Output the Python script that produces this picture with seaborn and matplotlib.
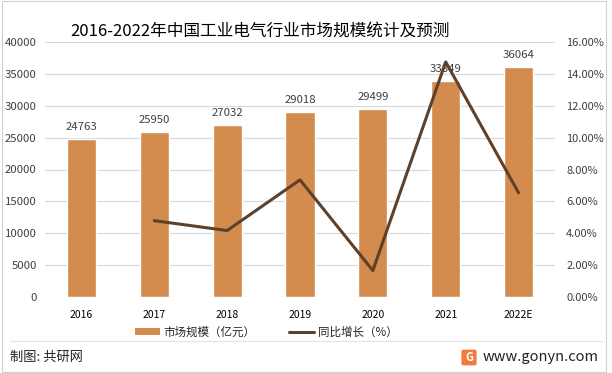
import numpy as np
import pandas as pd
import matplotlib
matplotlib.use("Agg")
import matplotlib.pyplot as plt
import seaborn as sns
from matplotlib.patches import Rectangle, Patch, FancyBboxPatch
from matplotlib.lines import Line2D

years = ["2016", "2017", "2018", "2019", "2020", "2021", "2022E"]
market = [24763, 25950, 27032, 29018, 29499, 33849, 36064]
growth = [np.nan, 4.79, 4.17, 7.35, 1.66, 14.75, 6.54]
left_ticks = [0, 5000, 10000, 15000, 20000, 25000, 30000, 35000, 40000]
right_ticks = [0, 2, 4, 6, 8, 10, 12, 14, 16]

title = "2016-2022年中国工业电气行业市场规模统计及预测"
bar_name = "市场规模（亿元）"
line_name = "同比增长（%）"

BAR_C = "#D48B4E"
LINE_C = "#5E412B"
GRID_C = "#D9D9D9"
TXT_C = "#404040"

sns.set_theme(style="white")
plt.rcParams['font.family'] = ['Noto Sans CJK SC', 'DejaVu Sans']

df = pd.DataFrame({"year": years, "market": market, "growth": growth, "pos": np.arange(len(years))})

fig = plt.figure(figsize=(6.12, 3.73), dpi=100)
ax = fig.add_axes([45/612, 1-297/373, 510/612, 255/373])

sns.barplot(data=df, x="year", y="market", color=BAR_C, width=0.4, saturation=1, ax=ax, zorder=2)
ax.set_ylim(0, 40000)
ax.set_xlim(-0.5, len(years)-0.5)
ax.set_yticks(left_ticks)
ax.set_yticklabels([str(t) for t in left_ticks], fontsize=8.2, color=TXT_C)
ax.yaxis.grid(True, color=GRID_C, linewidth=0.8, zorder=0)
ax.set_axisbelow(True)
ax.tick_params(axis="y", length=0, pad=6)
ax.tick_params(axis="x", length=0, pad=9)
for lab in ax.get_xticklabels():
    lab.set_fontsize(7.5)
    lab.set_color("#000000")
ax.set_xlabel("")
ax.set_ylabel("")
for s in ax.spines.values():
    s.set_visible(False)

for i, v in enumerate(market):
    ax.annotate(str(v), (i, v), xytext=(0, 5), textcoords="offset points",
                ha="center", va="bottom", fontsize=8.2, color=TXT_C, zorder=1)

ax2 = ax.twinx()
sns.lineplot(data=df, x="pos", y="growth", color=LINE_C, linewidth=2.2, ax=ax2, zorder=5)
ax2.set_ylim(0, 16)
ax2.set_yticks(right_ticks)
ax2.set_yticklabels([f"{t:.2f}%" for t in right_ticks], fontsize=8, color=TXT_C)
ax2.tick_params(axis="y", length=0, pad=8)
ax2.set_ylabel("")
ax2.set_xlabel("")
ax2.grid(False)
for s in ax2.spines.values():
    s.set_visible(False)
ax2.set_xlim(-0.5, len(years)-0.5)

fig.text(260/612, 1-31/373, title, ha="center", va="center", fontsize=12, color="#000000")

handles = [Patch(facecolor=BAR_C, edgecolor="none"),
           Line2D([0], [0], color=LINE_C, linewidth=2.2)]
fig.legend(handles, [bar_name, line_name], loc="center", bbox_to_anchor=(266/612, 1-332/373),
           ncol=2, frameon=False, fontsize=8.3, handlelength=2.2, handleheight=0.6,
           columnspacing=2.9, handletextpad=0.3)

# separator and border
fig.add_artist(Line2D([10/612, 602/612], [1-341/373, 1-341/373], color="#E3E3E3", linewidth=0.8))
fig.add_artist(Rectangle((2/612, 1/373), 604/612, 371/373, fill=False, edgecolor="#D0D0D0", linewidth=0.8))

fig.text(10/612, 1-357/373, "制图: 共研网", ha="left", va="center", fontsize=9.5, color="#222222")
fig.add_artist(FancyBboxPatch((462/612, 1-365/373), 14/612, 15/373,
                              boxstyle="round,pad=0.001,rounding_size=0.004",
                              facecolor="#F07B3F", edgecolor="none"))
fig.text(469/612, 1-357.5/373, "G", ha="center", va="center", fontsize=8, color="white", fontweight="bold")
fig.text(483/612, 1-357/373, "www.gonyn.com", ha="left", va="center", fontsize=10.5, color="#222222")

fig.savefig("out.png", dpi=100)
